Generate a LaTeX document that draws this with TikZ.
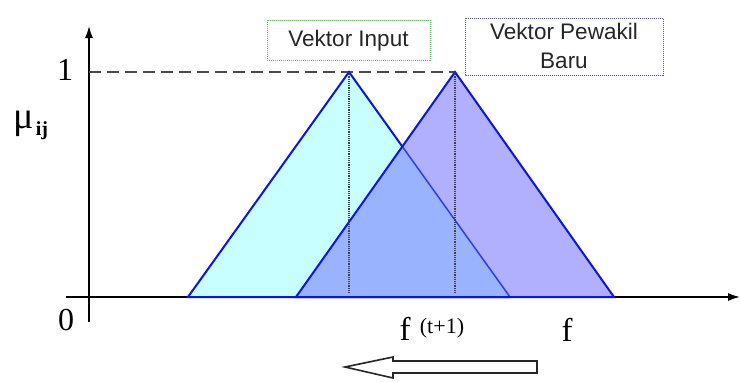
\documentclass[tikz,border=0pt]{standalone}
\usepackage{fontspec}
\setmainfont{Liberation Serif}
\newfontfamily\labelfont{Liberation Sans}
\usetikzlibrary{arrows.meta}
\definecolor{cyanfill}{HTML}{C8FFFF}
\definecolor{purplefill}{HTML}{B0B0FF}
\definecolor{overlapfill}{HTML}{99B3FF}
\definecolor{edgeblue}{HTML}{0A14F0}
\definecolor{boxgreen}{HTML}{22E022}
\definecolor{boxblue}{HTML}{4A4AF0}
\begin{document}
\begin{tikzpicture}[x=1pt,y=-1pt,
  axisline/.style={line width=1.6pt,black},
  triedge/.style={line width=2pt,edgeblue,line join=miter},
  peakline/.style={line width=1.2pt,black!75,densely dotted},
  labelbox/.style={line width=1pt,densely dotted,inner sep=0pt,font=\labelfont\fontsize{22.5}{29}\selectfont,text=black!85,align=center},
  serif/.style={inner sep=0pt,font=\fontsize{32}{32}\selectfont}]
\useasboundingbox[fill=white] (0,0) rectangle (740,381);
% points
\coordinate (yb) at (89,322); \coordinate (yt) at (89,26);
\coordinate (xl) at (66,297); \coordinate (xr) at (740,297);
\coordinate (p1) at (349,72); \coordinate (a1) at (188,297); \coordinate (b1) at (510,297);
\coordinate (p2) at (455,72); \coordinate (a2) at (296,297); \coordinate (b2) at (614,297);
\coordinate (x) at (402.3,146.5);
\coordinate (d0) at (89,72);
\coordinate (q1) at (349,293); \coordinate (q2) at (455,293);
% axes
\draw[axisline,-{Latex[length=12pt,width=8pt]}] (yb) -- (yt);
\draw[axisline,-{Latex[length=12pt,width=8pt]}] (xl) -- (xr);
\draw[line width=1.3pt,black!70,dash pattern=on 12pt off 6pt] (d0) -- (p2);
% triangles
\fill[cyanfill] (a1) -- (p1) -- (b1) -- cycle;
\fill[purplefill] (a2) -- (p2) -- (b2) -- cycle;
\fill[overlapfill] (a2) -- (x) -- (b1) -- cycle;
\draw[line width=1.5pt,color=edgeblue!75!overlapfill] (x) -- (b1);
\draw[triedge] (b1) -- (a1) -- (p1) -- (x);
\draw[triedge] (a2) -- (p2) -- (b2) -- cycle;
% peak lines
\draw[peakline] (p1) -- (q1);
\draw[peakline] (p2) -- (q2);
% labels
\node[serif] (one) at (65,70) {1};
\node[serif] (zero) at (66,320) {0};
\node[inner sep=0pt,anchor=base,font=\fontsize{38}{38}\selectfont] (mu) at (24,128) {μ};
\node[inner sep=0pt,anchor=base,font=\fontsize{20}{20}\selectfont\bfseries] (ij) at (42,135) {ij};
\node[serif,anchor=base,font=\fontsize{33}{33}\selectfont] (ft) at (405,340) {f};
\node[inner sep=0pt,anchor=base,font=\fontsize{22}{22}\selectfont] (tp) at (442,333) {(t+1)};
\node[serif,anchor=base,font=\fontsize{33}{33}\selectfont] (f) at (567,341) {f};
% label boxes
\draw[labelbox,draw=boxgreen] (267,20) rectangle (430,60);
\node[labelbox] (vin) at (348.5,41) {Vektor Input};
\draw[labelbox,draw=boxblue] (465,18) rectangle (663,75);
\node[labelbox] (vpb) at (564,46) {Vektor Pewakil\\Baru};
% hollow arrow
\coordinate (h0) at (345,367);
\coordinate (h1) at (393,357); \coordinate (h2) at (393,361);
\coordinate (h3) at (537,361); \coordinate (h4) at (537,373);
\coordinate (h5) at (393,373); \coordinate (h6) at (393,378);
\draw[line width=1.6pt,black!85,line join=miter] (h0) -- (h1) -- (h2) -- (h3) -- (h4) -- (h5) -- (h6) -- cycle;
\end{tikzpicture}
\end{document}
